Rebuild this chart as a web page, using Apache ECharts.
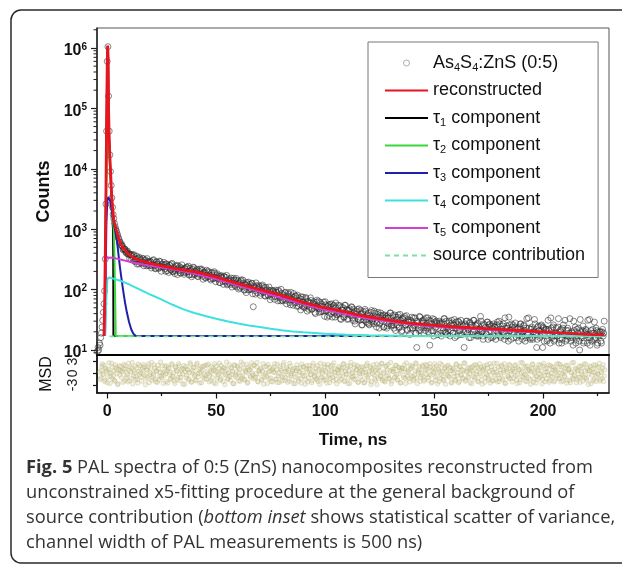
<!DOCTYPE html>
<html><head><meta charset="utf-8">
<script src="https://cdn.jsdelivr.net/npm/echarts@6/dist/echarts.min.js"></script>
<style>html,body{margin:0;padding:0;background:#fff;}#c{width:622px;height:567px;}</style>
</head><body><div id="c"></div>
<script>
// ---------- data ----------
const earlyTime = [-4.5,-4.2,-3.9,-3.6,-3.3,-3.0,-2.7,-2.4,-2.1,-1.8,-1.5,-1.2,-0.9,-0.6,-0.3,0.0,0.3,0.6,0.9,1.2,1.5,1.8,2.1,2.4,2.7,3.0,3.3,3.6,3.9,4.2,4.5,4.8,5.1,5.4,5.7];
const earlyCounts = [9.5,11,10,13,12,16,19,24,31,42,58,95,320,2600,42000,600000,1050000,160000,42000,17000,9000,5300,3300,2300,1750,1500,1250,1100,1000,930,850,790,720,680,620];
const tailStart = 6, tailStep = 0.5;   // channel grid of the tail (first set)
const tailCounts = [
602,531,517,465,468,419,423,386,
396,383,312,353,367,300,318,357,294,265,325,307,271,324,277,310,247,284,293,249,
286,247,303,256,221,286,262,223,295,238,
258,235,283,220,267,204,234,252,215,264,
201,232,184,245,217,248,206,189,228,216,
193,222,191,237,199,174,225,206,176,235,
178,200,210,166,180,219,184,208,148,189,
159,209,163,192,173,144,193,151,198,157,
159,183,148,131,166,157,136,167,139,159,
120,142,148,121,142,128,154,119,143,110,
140,126,106,145,113,129,98,121,131,99,
112,122,101,127,52,110,84,116,101,117,
104,87,114,91,108,78,96,100,79,96,
84,75,96,89,77,91,75,98,78,65,
87,65,81,89,66,73,89,67,56,79,
67,86,60,78,53,65,72,57,76,53,
62,50,74,55,64,47,60,66,48,54,
58,40,62,52,64,48,43,57,52,44,
63,44,35,56,51,40,58,43,55,35,
50,39,55,42,33,51,45,35,55,39,
47,33,45,39,52,34,47,30,39,44,
33,48,31,39,26,43,35,44,32,28,
27,37,42,29,33,44,30,24,39,35,
27,41,30,38,24,33,36,25,34,29,
41,26,37,23,30,35,26,38,24,31,
20,34,28,36,26,22,32,29,23,30,
23,34,26,19,11,28,21,35,24,30,
28,32,21,25,34,23,12,30,27,21,
32,23,30,18,26,28,19,27,23,33,
20,30,18,24,28,21,31,19,26,16,
29,23,30,21,18,27,24,20,26,20,
30,22,16,28,24,18,31,21,26,17,
28,18,22,30,20,15,26,24,18,29,
20,27,16,23,25,17,24,21,29,18,
27,16,22,25,19,34,17,23,14,26,
21,27,19,16,24,22,18,23,18,27,
20,15,25,21,16,33,18,23,15,22,
16,20,32,18,11,24,21,16,25,18,
24,14,21,22,15,22,18,34,16,24,
14,19,23,17,33,15,20,13,23,18,
31,17,15,21,19,16,20,16,30,17,
13,22,19,14,32,17,21,13,19,22,
18,31,16,12,21,19,15,29,16,21,
13,18,20,14,20,17,30];
const tail2Start = 6.25, tail2Step = 0.5; // interleaved channels (second set)
const tailCounts2 = [
549,554,455,473,461,402,435,384,
329,375,382,322,379,288,325,264,329,343,277,287,327,248,301,266,326,251,286,295,
228,263,312,248,226,288,260,229,290,201,
264,234,255,201,264,244,192,253,211,272,
197,218,203,252,177,226,239,188,257,209,
179,223,232,196,244,177,206,163,216,230,
180,189,217,163,200,176,219,166,189,196,
155,174,203,165,152,187,171,153,187,135,
174,153,166,130,171,157,122,162,134,172,
124,137,127,155,110,138,144,114,153,123,
102,132,139,112,144,99,119,89,124,133,
99,105,127,85,114,96,129,89,107,112,
80,96,119,89,79,109,96,81,110,68,
98,84,94,69,98,89,65,93,73,101,
67,76,69,90,58,78,83,61,90,69,
55,74,78,61,81,53,65,46,69,75,
52,57,71,44,63,51,73,47,59,63,
42,53,67,49,42,61,53,44,62,36,
56,46,53,37,57,51,35,54,41,60,
38,44,40,54,32,46,50,35,55,41,
32,45,48,37,51,31,41,27,43,47,
32,35,45,26,40,31,47,29,38,41,
26,34,45,31,27,41,35,28,42,23,
37,31,36,24,38,34,23,37,27,41,
25,30,26,38,21,32,35,23,39,28,
21,32,34,26,37,21,29,18,31,35,
23,25,34,19,30,23,36,21,28,31,
19,25,34,23,20,31,27,21,33,17,
29,24,28,18,30,27,17,29,21,33,
19,23,21,30,17,26,28,19,32,23,
17,26,29,21,31,18,25,11,27,30,
19,22,29,16,26,20,31,18,25,27,
17,22,36,20,17,27,23,19,29,15,
26,21,25,16,27,24,15,26,19,30,
17,21,19,27,15,23,25,17,35,21,
15,24,26,19,28,16,22,14,24,27,
17,20,26,14,23,18,34,16,22,24,
15,20,27,18,15,25,21,17,26,11,
23,19,22,14,31,21,13,23,17,26,
15,19,17,24,13,21,22,15,26,18,
14,21,23,17,33,14,19,12,21,24,
15,17,23,10,20,16,25,14,20,21,
13,18,32,16,14,22,19,15,23,12,
20,17,20,13,22,19];

const fitTime = [-1.5,-1.2,-0.9,-0.6,-0.3,0,0.2,0.4,0.6,0.9,1.2,1.5,1.8,2.1,2.4,2.7,3,3.5,4,4.5,5,5.5,6,7,8,9,10,12,14,16,18,20,24,28,32,36,40,45,50,55,60,65,70,75,80,85,90,95,100,105,110,115,120,125,130,135,140,145,150,160,170,180,190,200,210,220,228];
const fitCounts = [17,60,400,4000,60000,600000,1100000,700000,100000,32000,16000,9500,5300,3400,2400,1800,1450,1180,1000,860,750,660,590,505,455,412,380,337,312,295,283,272,252,236,220,208,198,180,162,142,125,112,100,90,80,70,61,55,50,46,42,38,35.5,33,31,29,27.5,26.5,25.5,24,23,22,21,20,19,18.2,17.8];
const tau1Time = [-1.2,-0.9,-0.6,-0.3,0,0.2,0.4,0.6,0.9,1.2,1.5,1.8,2.1,2.4,2.6,2.75,2.85,228];
const tau1Counts = [17,300,3500,55000,580000,1080000,680000,95000,29000,14000,8000,4700,2900,1900,1300,400,17,17];
const tau2Time = [-1.2,-0.9,-0.6,-0.3,0,0.3,0.6,0.9,1.2,1.5,1.8,2.1,2.4,2.7,3.0,3.3,3.6,3.9,228];
const tau2Counts = [17,150,1500,12000,38000,45000,30000,18000,11000,7000,4500,2900,1900,1300,950,350,80,17,17];
const tau3Time = [-1.0,-0.7,-0.4,0,0.4,0.8,1.3,1.8,2.3,2.8,3.3,3.8,4.3,4.8,5.3,5.8,6.3,7.0,7.6,8.2,9,10,11,12,13,14,228];
const tau3Counts = [17,200,1200,2800,3400,3500,3000,2300,1780,1400,1100,880,700,500,340,240,175,115,82,60,42,29,22,18.5,17.2,17,17];
const tau4Time = [-1.0,-0.5,0,0.5,2,6,10,15,20,25,30,35,40,45,50,55,60,65,70,75,80,85,90,100,110,120,140,160,228];
const tau4Counts = [17,60,140,158,155,140,122,100,82,68,56,47,41,36.5,33,30,27.5,25.5,24,22.5,21.3,20.3,19.6,18.6,17.9,17.5,17.1,17,17];
const tau5Time = [-1.3,-0.8,-0.4,0.5,3,6,10,15,20,25,30,35,40,45,50,55,60,65,70,75,80,85,90,95,100,105,110,115,120,125,130,135,140,145,150,160,170,180,190,200,210,220,228];
const tau5Counts = [17,200,340,350,335,315,290,265,247,231,216,200,182,165,148,132,117,104,92,82,72,64,57,51,46,42,38.5,35.5,33,31,29.2,27.6,26.3,25.3,24.5,23,22,21,20.2,19.5,18.8,18.1,17.7];
const sourceTime = [1, 228];
const sourceCounts = [16.8, 16.8];

const msdStart = -3.5, msdStep = 0.5;
const msdValues = [
0.4,-1.2,1.8,-0.3,2.1,-1.7,0.9,-2.4,1.1,0.2,-0.8,2.6,-1.4,0.6,-2.0,1.5,-0.1,-2.7,1.9,0.7,
-1.1,0.3,2.3,-1.9,1.2,-0.5,-2.2,0.8,1.6,-1.3,2.8,-0.6,0.1,-1.6,1.4,-2.5,0.5,2.0,-0.9,1.0,
-0.2,1.7,-2.9,0.9,-1.0,2.4,-0.4,1.3,-1.8,0.0,2.2,-1.5,0.6,-2.3,1.1,-0.7,2.9,-1.2,0.3,-0.6,
1.9,-2.1,0.7,1.4,-0.3,-1.6,2.5,-0.9,0.2,-2.6,1.6,0.5,-1.1,2.0,-1.9,0.8,-0.2,1.2,-2.8,1.7,
-0.5,0.9,-1.4,2.7,-2.2,0.1,1.5,-0.8,-1.7,2.3,-0.1,1.0,-2.5,0.4,1.8,-1.0,-0.4,2.1,-1.5,0.6,
2.4,-0.7,-1.9,0.3,1.3,-2.4,0.7,1.9,-1.2,-0.2,2.6,-1.6,0.8,-0.5,1.5,-2.9,1.1,0.0,-1.3,2.2,
-1.8,1.2,0.5,-2.7,2.0,-0.3,-1.1,1.6,0.2,-2.0,2.9,-0.8,1.3,-1.5,0.4,2.3,-2.3,0.9,-0.6,1.4,
0.1,-1.4,2.1,-0.9,1.7,-2.1,0.6,-0.2,1.0,-1.7,2.5,-1.0,-0.4,1.8,-2.6,0.3,1.5,-1.2,0.8,-2.2,
1.6,0.2,-1.5,2.4,-0.7,-2.3,1.2,0.7,-1.0,2.8,-1.8,0.4,1.1,-0.5,-2.0,1.9,-0.1,0.6,-2.7,1.3,
-0.9,2.2,-1.3,0.5,1.4,-2.5,0.0,1.7,-0.6,-1.6,2.0,-2.2,0.9,1.2,-0.3,-1.9,2.6,-0.8,0.3,-1.4,
2.0,-0.4,-2.8,1.1,0.6,-1.2,2.3,-1.7,0.2,1.5,-0.9,-2.4,1.8,0.4,-1.1,2.7,-0.5,-1.6,1.0,0.1,
-2.0,1.4,0.8,-0.7,2.5,-1.9,-0.2,1.3,-2.6,0.7,1.9,-1.0,0.3,-1.5,2.2,-0.6,0.9,-2.3,1.6,-0.1,
0.6,-1.7,1.5,-2.4,0.2,2.1,-1.1,-0.3,1.8,-2.9,0.8,1.2,-0.5,-1.8,2.4,0.0,-1.3,1.7,-0.8,2.6,
-1.5,0.4,-2.2,1.9,0.9,-0.6,-1.4,2.8,-2.0,0.5,1.1,-0.9,2.1,-1.6,-0.2,1.4,-2.5,0.7,1.3,-1.1,
1.2,-2.6,0.3,0.8,-1.3,2.0,-0.7,1.6,-1.9,-0.4,2.7,-1.2,0.6,1.0,-2.1,0.2,1.8,-0.9,-1.7,2.3,
-0.3,1.1,-1.8,2.5,-0.5,-2.3,1.4,0.3,-1.0,1.9,-2.7,0.9,0.4,-1.4,2.2,-0.8,-1.9,1.5,0.6,-0.2,
2.1,-1.0,0.7,-2.5,1.3,0.1,-1.6,2.4,-0.6,1.0,-2.1,1.7,-0.3,-1.2,0.8,2.6,-1.8,0.5,-0.9,1.6,
-2.4,0.6,1.7,-0.8,-1.5,2.2,0.4,-2.0,1.2,-0.1,1.5,-2.8,0.9,2.0,-1.1,-0.4,1.3,-1.7,2.5,-0.6,
0.8,-1.9,2.6,-0.4,0.3,-2.2,1.6,-1.3,0.0,2.1,-1.6,0.7,-2.5,1.4,0.5,-0.9,2.3,-1.4,-0.2,1.1,
-1.2,2.0,-0.6,-2.6,1.5,0.9,-1.7,0.2,2.7,-1.0,-0.3,1.8,-2.1,0.6,1.1,-1.5,0.4,2.4,-2.3,0.1,
1.4,-0.8,-1.6,2.3,-0.2,0.7,-2.7,1.9,-0.5,1.2,-1.4,0.3,2.2,-1.9,-0.7,1.6,0.8,-2.2,1.0,-0.4,
-0.7,2.5,-1.3,0.1,1.7,-2.0,0.5,-0.9,2.0,-1.8,0.9,1.3,-2.4,0.2,-1.2,2.8,-0.3,1.1,-1.6,0.6,
1.8,-2.3,0.4,1.5,-0.6,-1.1,2.4,-1.7,0.7,-0.2,1.9,-2.6,1.0,0.3,-1.5,2.1,-0.8,-0.1,1.6,-2.0,
0.5,-1.3,2.2,-0.7];
const msd2Start = -3.25, msd2Step = 0.5;
const msdValues2 = [
-1.6,0.8,2.4,-0.2,-2.1,1.3,0.5,-1.0,2.7,-2.6,0.0,1.6,-0.7,-1.8,2.2,0.9,-2.9,1.0,-0.4,1.8,
0.6,-2.3,1.1,2.0,-1.2,-0.1,2.6,-1.9,0.4,1.3,-2.7,0.7,1.9,-0.9,-1.5,2.4,-0.3,0.2,-2.0,1.5,
2.3,-0.6,-1.4,0.9,1.7,-2.4,0.1,2.8,-1.1,-0.5,1.4,-2.2,0.6,2.1,-1.7,0.3,-0.8,1.9,-2.6,0.5,
-0.1,1.9,-2.5,1.2,0.3,-1.3,2.2,-0.7,-2.0,1.6,0.8,-1.6,2.5,-0.2,-1.0,1.1,-2.8,2.0,0.4,-1.2,
1.0,-1.7,0.2,2.3,-2.3,0.7,1.5,-0.4,-1.9,2.6,-0.9,0.0,1.3,-2.4,0.9,1.8,-1.4,-0.6,2.1,-0.1,
-2.2,0.5,1.7,-1.1,0.8,2.5,-2.7,0.3,-0.5,1.2,-1.8,2.0,0.6,-2.1,1.4,-0.3,2.9,-1.5,0.1,-0.8,
1.5,-0.3,-2.6,2.2,-0.8,0.4,1.9,-2.0,1.1,-0.6,-1.3,2.4,-1.7,0.7,0.2,-2.5,1.6,0.9,-1.0,2.7,
-0.4,2.1,-1.2,-0.1,2.8,-2.2,0.8,1.3,-1.6,0.5,-2.8,1.7,0.1,-0.9,2.3,-1.4,0.6,-2.1,1.2,0.3,
2.5,-1.5,0.9,-2.4,0.0,1.8,-0.7,-1.9,2.2,0.4,-1.1,1.5,-2.3,0.8,2.6,-0.5,-1.6,1.0,-0.2,-2.6,
0.7,1.3,-2.0,0.2,-1.4,2.4,-0.6,1.6,-2.8,1.1,0.4,-1.2,2.0,-0.3,-2.4,1.9,0.5,-0.9,1.4,-1.7,
-2.1,0.9,2.6,-1.0,0.1,-1.8,1.7,0.6,-2.5,2.3,-0.4,-1.3,0.8,2.1,-1.9,0.2,1.2,-2.7,0.7,1.8,
-0.6,-1.5,1.3,2.4,-2.1,0.5,-0.2,1.9,-1.2,-2.6,2.8,0.0,-0.8,1.5,-1.6,0.9,2.0,-2.3,0.3,-1.0,
1.7,0.2,-2.4,1.0,-0.5,2.6,-1.7,0.4,1.4,-2.2,-0.1,2.2,-1.4,0.8,-2.9,1.3,0.6,-0.7,2.5,-1.9,
0.0,-2.0,1.8,-0.6,2.3,-1.3,0.7,-2.7,1.1,0.5,-1.1,2.0,-0.3,-1.8,1.6,0.9,-2.4,1.4,-0.5,2.2,
-1.3,2.7,-0.9,0.4,-2.2,1.2,1.9,-0.8,-1.5,0.6,2.4,-2.6,0.1,1.7,-1.0,-0.4,2.1,-2.0,0.8,1.0,
2.0,-1.1,-0.3,1.6,-2.5,0.8,0.3,2.5,-1.8,-0.7,1.3,-2.1,2.6,-0.2,0.5,-1.6,1.1,-2.8,1.9,-0.6,
-0.8,1.5,-2.3,0.7,1.2,-0.9,-1.9,2.3,0.2,-2.4,1.8,-0.5,0.9,-1.4,2.7,-2.0,0.4,1.3,-1.1,0.0,
1.3,-2.7,0.6,2.1,-1.0,-0.2,1.6,-2.2,2.5,-0.6,-1.7,0.8,1.4,-2.3,0.0,2.2,-1.2,0.5,-2.5,1.7,
-1.9,0.3,1.1,-1.6,2.6,-0.4,-2.1,0.9,1.8,-1.2,0.2,2.5,-2.6,1.0,-0.7,-1.3,2.0,0.6,-2.2,0.9,
0.4,2.2,-1.7,-0.3,1.0,-2.4,2.8,-0.9,0.5,1.5,-2.0,-0.6,1.9,-1.1,0.7,-2.8,1.2,2.3,-1.4,-0.2,
-2.5,1.1,0.8,-1.2,2.1,-0.7,-1.6,2.6,-2.1,0.3,1.4,-0.4,-2.3,2.0,0.1,-1.0,1.7,-1.9,0.6,2.4,
0.9,-1.4,2.3,-2.2,-0.1,1.6,-0.8,0.4,-2.5,2.1,1.0,-1.8,0.2,2.7,-1.5,-0.6,1.3,-2.4,0.8,-1.1,
-1.0,1.9,-0.2,-2.0,2.4,0.6,-1.3,1.2,-2.9,0.7,1.6,-0.5,-1.9,2.2,0.3,-2.1,1.5,-0.3,2.6,-1.6,
0.2,1.4,-2.1,0.9];

const xMajorTicks = [0, 50, 100, 150, 200];
const xMinorTicks = [25, 75, 125, 175, 225];
const yMajorTicks = [10, 100, 1000, 10000, 100000, 1000000];
const yMinorTicks = [9,20,30,40,50,60,70,80,90,200,300,400,500,600,700,800,900,2000,3000,4000,5000,6000,7000,8000,9000,
  20000,30000,40000,50000,60000,70000,80000,90000,200000,300000,400000,500000,600000,700000,800000,900000,2000000];
const msdTicks = [-3, 0, 3];

const legendNames = ['As4S4:ZnS (0:5)','reconstructed','τ1 component','τ2 component','τ3 component','τ4 component','τ5 component','source contribution'];
const legendRichLabels = {
  'As4S4:ZnS (0:5)': 'As{s|4}S{s|4}:ZnS (0:5)',
  'τ1 component': 'τ{s|1} component',
  'τ2 component': 'τ{s|2} component',
  'τ3 component': 'τ{s|3} component',
  'τ4 component': 'τ{s|4} component',
  'τ5 component': 'τ{s|5} component'
};
const captionLines = [
  '{b|Fig. 5} PAL spectra of 0:5 (ZnS) nanocomposites reconstructed from',
  'unconstrained x5-fitting procedure at the general background of',
  'source contribution ({i|bottom inset} shows statistical scatter of variance,',
  'channel width of PAL measurements is 500 ns)'
];

// ---------- chart ----------
const X_MIN = -4.7, X_MAX = 230.2;
const FONT = 'Liberation Sans';
const CAP_FONT = 'Open Sans';
const CAP_SIZE = 18.3;
const zip = (ts, vs) => ts.map((t, i) => [t, vs[i]]);
const dataPoints = zip(earlyTime, earlyCounts)
  .concat(tailCounts.map((c, i) => [tailStart + i * tailStep, c]))
  .concat(tailCounts2.map((c, i) => [tail2Start + i * tail2Step, c]));
const msdPoints = msdValues.map((v, i) => [msdStart + i * msdStep, v])
  .concat(msdValues2.map((v, i) => [msd2Start + i * msd2Step, v]));

function lineSeries(name, ts, vs, color, width, type) {
  return {
    type: 'line', name: name, xAxisIndex: 0, yAxisIndex: 0,
    data: zip(ts, vs), symbol: 'none', showSymbol: false,
    lineStyle: { color: color, width: width, type: type || 'solid' },
    itemStyle: { color: 'rgba(0,0,0,0)', borderColor: 'rgba(0,0,0,0)' }, animation: false, silent: true
  };
}

const option = {
  animation: false,
  textStyle: { fontFamily: FONT },
  grid: [
    { left: 97, top: 28, width: 512, height: 327, show: true, borderColor: '#555', borderWidth: 1 },
    { left: 97, top: 355, width: 512, height: 38, show: true, borderColor: '#111', borderWidth: 1.2 }
  ],
  xAxis: [
    { type: 'value', gridIndex: 0, min: X_MIN, max: X_MAX, position: 'bottom',
      axisLine: { onZero: false, lineStyle: { color: '#000', width: 2 } },
      axisTick: { show: false }, axisLabel: { show: false }, splitLine: { show: false } },
    { type: 'value', gridIndex: 1, min: X_MIN, max: X_MAX, position: 'bottom',
      axisLine: { onZero: false, lineStyle: { color: '#111', width: 1.5 } },
      axisTick: { customValues: xMajorTicks, length: 5.5, lineStyle: { color: '#111', width: 1.2 } },
      axisLabel: { customValues: xMajorTicks, margin: 11, fontSize: 16, fontWeight: 'bold', color: '#111', fontFamily: FONT },
      splitLine: { show: false },
      name: 'Time, ns', nameLocation: 'middle', nameGap: 39,
      nameTextStyle: { fontSize: 17, fontWeight: 'bold', color: '#111', fontFamily: FONT } },
    { type: 'value', gridIndex: 1, min: X_MIN, max: X_MAX, position: 'bottom',
      axisLine: { show: false, onZero: false },
      axisTick: { customValues: xMinorTicks, length: 3, lineStyle: { color: '#111', width: 1.2 } },
      axisLabel: { show: false }, splitLine: { show: false } }
  ],
  yAxis: [
    { type: 'log', gridIndex: 0, min: 8.26, max: 2.14e6, logBase: 10, position: 'left',
      axisLine: { show: true, onZero: false, lineStyle: { color: '#222', width: 1.5 } },
      axisTick: { customValues: yMajorTicks, length: 6, lineStyle: { color: '#222', width: 1.2 } },
      axisLabel: { customValues: yMajorTicks, margin: 10, padding: [6, 0, 0, 0],
        formatter: v => '10{sup|' + Math.round(Math.log10(v)) + '}',
        fontSize: 16, fontWeight: 'bold', lineHeight: 18, color: '#111', fontFamily: FONT,
        rich: { sup: { fontSize: 10, fontWeight: 'bold', verticalAlign: 'top', lineHeight: 4, color: '#111', fontFamily: FONT } } },
      splitLine: { show: false },
      name: 'Counts', nameLocation: 'middle', nameGap: 43,
      nameTextStyle: { fontSize: 18, fontWeight: 'bold', color: '#111', fontFamily: FONT } },
    { type: 'value', gridIndex: 1, min: -5.07, max: 4.73, position: 'left',
      axisLine: { show: true, onZero: false, lineStyle: { color: '#111', width: 1.5 } },
      axisTick: { customValues: msdTicks, length: 4, lineStyle: { color: '#111', width: 1.2 } },
      axisLabel: { customValues: msdTicks, rotate: 90, margin: 17, fontSize: 14, color: '#222', fontFamily: FONT },
      splitLine: { show: false },
      name: 'MSD', nameLocation: 'middle', nameGap: 42,
      nameTextStyle: { fontSize: 16, color: '#111', fontFamily: FONT } }
  ],
  legend: {
    data: [{ name: legendNames[0], itemStyle: { color: 'rgba(255,255,255,0)', borderColor: '#999', borderWidth: 1 } }].concat(legendNames.slice(1)),
    orient: 'vertical', left: 368, top: 42,
    padding: [11, 13, 12, 16], itemGap: 7.5, itemWidth: 43, itemHeight: 6,
    borderColor: '#777', borderWidth: 1, backgroundColor: '#fff', selectedMode: false,
    formatter: n => legendRichLabels[n] || n,
    textStyle: { fontSize: 18, color: '#111', fontFamily: FONT, lineHeight: 20,
      rich: { s: { fontSize: 11, color: '#111', fontFamily: FONT, verticalAlign: 'bottom', lineHeight: 4 } } }
  },
  graphic: [
    { type: 'rect', silent: true, shape: { x: 11, y: 10, width: 640, height: 553, r: 10 },
      style: { fill: 'none', stroke: '#2a2a2a', lineWidth: 1.5 } }
  ].concat(captionLines.map((line, i) => ({
    type: 'text', silent: true, x: 26, y: 468 + i * 25,
    style: { text: line, fontSize: CAP_SIZE, fontFamily: CAP_FONT, fill: '#333', align: 'left', verticalAlign: 'middle',
      rich: { b: { fontSize: CAP_SIZE, fontFamily: CAP_FONT, fontWeight: 'bold', fill: '#333' },
              i: { fontSize: CAP_SIZE, fontFamily: CAP_FONT, fontStyle: 'italic', fill: '#333' } } }
  }))),
  series: [
    { type: 'scatter', name: 'As4S4:ZnS (0:5)', xAxisIndex: 0, yAxisIndex: 0, data: dataPoints,
      symbol: 'circle', symbolSize: 6, silent: true,
      itemStyle: { color: 'rgba(255,255,255,0)', borderColor: 'rgba(45,45,45,0.8)', borderWidth: 0.9 } },
    lineSeries('τ1 component', tau1Time, tau1Counts, '#000000', 2),
    lineSeries('τ2 component', tau2Time, tau2Counts, '#3bd83b', 2),
    lineSeries('τ3 component', tau3Time, tau3Counts, '#1e22a8', 2),
    lineSeries('τ4 component', tau4Time, tau4Counts, '#3ee0e0', 2),
    lineSeries('τ5 component', tau5Time, tau5Counts, '#d23fd2', 2),
    lineSeries('source contribution', sourceTime, sourceCounts, '#7fe0a0', 1.6, [5, 4]),
    lineSeries('reconstructed', fitTime, fitCounts, '#e8141e', 2.8),
    { type: 'scatter', name: 'msd', xAxisIndex: 1, yAxisIndex: 1, data: msdPoints,
      symbol: 'circle', symbolSize: 4.5, silent: true,
      itemStyle: { color: 'rgba(210,204,150,0.35)', borderColor: 'rgba(170,163,100,0.5)', borderWidth: 0.7 } },
    { type: 'custom', name: 'minorTicks', xAxisIndex: 0, yAxisIndex: 0, silent: true, clip: false,
      data: yMinorTicks.map(v => [X_MIN, v]),
      renderItem: (params, api) => {
        const p = api.coord([api.value(0), api.value(1)]);
        return { type: 'line', shape: { x1: p[0] - 3.5, y1: p[1], x2: p[0], y2: p[1] },
                 style: { stroke: '#222', lineWidth: 1 } };
      } }
  ]
};
const chart = echarts.init(document.getElementById('c'), null, { renderer: 'canvas' });
chart.setOption(option);
</script></body></html>
